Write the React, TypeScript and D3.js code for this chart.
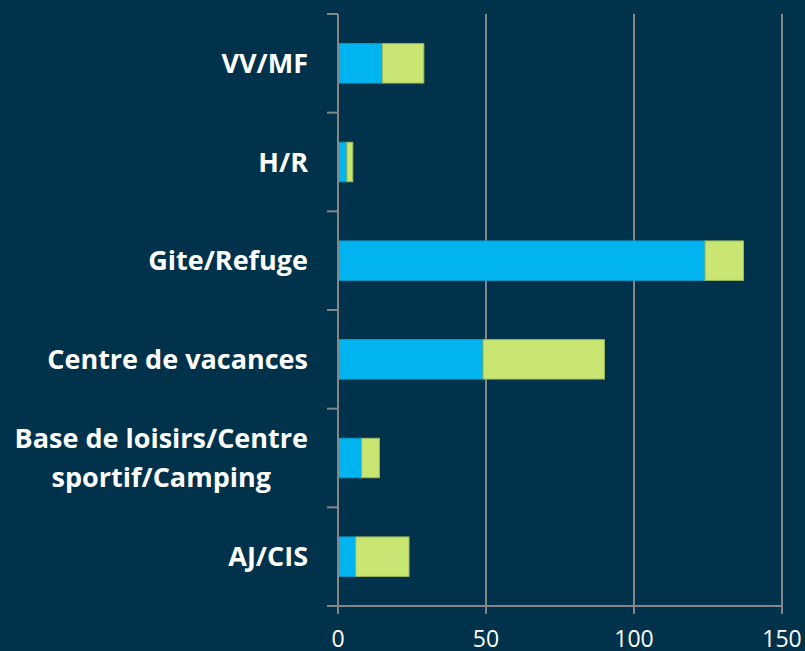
import React from "react";
import * as d3 from "d3";

const categories = ["VV/MF", "H/R", "Gite/Refuge", "Centre de vacances", "Base de loisirs/Centre sportif/Camping", "AJ/CIS"];
const categoryLines = [["VV/MF"], ["H/R"], ["Gite/Refuge"], ["Centre de vacances"], ["Base de loisirs/Centre", "sportif/Camping"], ["AJ/CIS"]];
const seriesBlue = [15, 3, 124, 49, 8, 6];
const seriesGreen = [14, 2, 13, 41, 6, 18];
const xTicks = [0, 50, 100, 150];

const W = 805, H = 651;
const BG = "#00324B";
const BLUE = "#00B5EF";
const GREEN = "#C9E672";
const GRID = "#858585";
const FONT = "'Open Sans', 'Noto Sans', sans-serif";

function measure(text: string, font: string): number {
  if (typeof document === "undefined") return text.length * 14;
  const canvas = document.createElement("canvas");
  const ctx = canvas.getContext("2d");
  if (!ctx) return text.length * 14;
  ctx.font = font;
  return ctx.measureText(text).width;
}

export default function App() {
  const x = d3.scaleLinear().domain([0, 150]).range([338, 782]);
  const y = d3.scaleBand<string>().domain(categories).range([14, 606]).paddingInner(0.6).paddingOuter(0.3);
  const step = y.step();
  const stackData = categories.map((c, i) => ({ c, blue: seriesBlue[i], green: seriesGreen[i] }));
  const stacked = d3.stack<any>().keys(["blue", "green"])(stackData);
  const colors: Record<string, [string, string]> = { blue: [BLUE, "#0A9BCB"], green: [GREEN, "#9DB85A"] };
  const boundaries = d3.range(categories.length + 1).map((i) => 14 + i * step);
  const fs = 27;
  const labelRight = 308;
  return (
    <svg width={W} height={H} style={{ position: "absolute", left: 0, top: 0, display: "block" }}>
      <rect x={0} y={0} width={W} height={H} fill={BG} />
      {xTicks.filter((t) => t > 0).map((t) => (
        <line key={"g" + t} x1={x(t)} x2={x(t)} y1={14} y2={606} stroke={GRID} strokeWidth={2} />
      ))}
      {stacked.map((s) => (
        <g key={s.key}>
          {s.map((d: any, i: number) => (
            <rect key={i} x={x(d[0])} y={y(categories[i])!} width={x(d[1]) - x(d[0])} height={y.bandwidth()}
              fill={colors[s.key][0]} stroke={colors[s.key][1]} strokeWidth={1} />
          ))}
        </g>
      ))}
      <line x1={x(0)} x2={x(0)} y1={14} y2={606} stroke={GRID} strokeWidth={2} />
      {boundaries.map((b, i) => (
        <line key={"yt" + i} x1={327} x2={x(0)} y1={b} y2={b} stroke={GRID} strokeWidth={2} />
      ))}
      <line x1={327} x2={x(150)} y1={606} y2={606} stroke={GRID} strokeWidth={2} />
      {xTicks.map((t) => (
        <g key={"xt" + t}>
          <line x1={x(t)} x2={x(t)} y1={606} y2={614} stroke={GRID} strokeWidth={2} />
          <text x={x(t)} y={647} textAnchor="middle" fill="#FFFFFF" fontFamily={FONT} fontSize={23}>{t}</text>
        </g>
      ))}
      {categories.map((c, i) => {
        const lines = categoryLines[i];
        const cy = y(c)! + y.bandwidth() / 2;
        const lh = 39;
        const first = cy - ((lines.length - 1) * lh) / 2 + fs * 0.714 / 2;
        const fontStr = `bold ${fs}px 'Open Sans', 'Noto Sans', sans-serif`;
        const maxW = Math.max(...lines.map((l) => measure(l, fontStr)));
        const centerX = labelRight - maxW / 2;
        return (
          <text key={c} textAnchor={lines.length > 1 ? "middle" : "end"} fill="#FFFFFF" fontFamily={FONT} fontWeight="bold" fontSize={fs}>
            {lines.map((l, j) => (
              <tspan key={j} x={lines.length > 1 ? centerX : labelRight} y={first + j * lh}>{l}</tspan>
            ))}
          </text>
        );
      })}
    </svg>
  );
}
